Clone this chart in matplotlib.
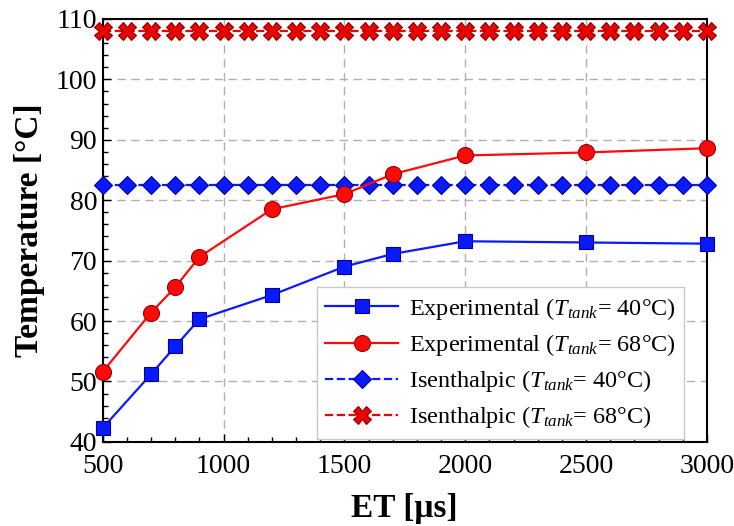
import matplotlib
matplotlib.use("Agg")
import matplotlib.pyplot as plt
import matplotlib.ticker

plt.rcParams['font.family'] = ['Liberation Serif', 'DejaVu Serif']
plt.rcParams['mathtext.fontset'] = 'custom'
plt.rcParams['mathtext.rm'] = 'Liberation Serif'
plt.rcParams['mathtext.it'] = 'Liberation Serif:italic'

# injection energizing time [us] and measured temperatures
et_exp = [500, 700, 800, 900, 1200, 1500, 1700, 2000, 2500, 3000]
temp_40 = [42.3, 51.2, 55.8, 60.3, 64.3, 69.0, 71.1, 73.2, 73.0, 72.8]
temp_68 = [51.6, 61.4, 65.6, 70.6, 78.5, 81.0, 84.3, 87.4, 87.9, 88.6]

# isenthalpic reference levels
et_ise = list(range(500, 3001, 100))
ise_40 = [82.5] * len(et_ise)
ise_68 = [108.0] * len(et_ise)

fig = plt.figure(figsize=(7.34, 5.26), dpi=100)
ax = fig.add_axes([0.140, 0.160, 0.823, 0.804])

ax.plot(et_exp, temp_40, marker="s", markersize=10.5, linestyle="-", linewidth=1.6,
        color="#0a1aff", markeredgecolor="#00009a", markeredgewidth=0.8,
        label=r"Experimental ($T_{tank}$= 40°C)", zorder=4, clip_on=False)
ax.plot(et_exp, temp_68, marker="o", markersize=11.5, linestyle="-", linewidth=1.6,
        color="#ff0a0a", markeredgecolor="#9a0000", markeredgewidth=0.8,
        label=r"Experimental ($T_{tank}$= 68°C)", zorder=4, clip_on=False)
ax.plot(et_ise, ise_40, marker="D", markersize=9, linestyle="--", linewidth=1.6,
        color="#0a1aff", markeredgecolor="#00009a", markeredgewidth=0.8,
        label=r"Isenthalpic ($T_{tank}$= 40°C)", zorder=3, clip_on=False)
ax.plot(et_ise, ise_68, marker="X", markersize=12.5, linestyle="--", linewidth=1.6,
        color="#ee0000", markeredgecolor="#8a0000", markeredgewidth=0.8,
        label=r"Isenthalpic ($T_{tank}$= 68°C)", zorder=3, clip_on=False)

ax.set_xlim([500, 3000])
ax.set_ylim([40, 110])
ax.xaxis.set_major_locator(matplotlib.ticker.MultipleLocator(500))
ax.xaxis.set_minor_locator(matplotlib.ticker.MultipleLocator(100))
ax.yaxis.set_major_locator(matplotlib.ticker.MultipleLocator(10))
ax.yaxis.set_minor_locator(matplotlib.ticker.MultipleLocator(2))
ax.tick_params(which="both", direction="in", labelsize=20, top=False, right=False)
ax.tick_params(which="major", length=6, width=1)
ax.tick_params(which="minor", length=3.5, width=1)
ax.tick_params(axis="x", which="major", pad=9)
ax.tick_params(axis="y", which="major", pad=4)

ax.set_xlabel(r"ET [μs]", fontsize=24, fontweight="bold", labelpad=10)
ax.set_ylabel("Temperature [°C]", fontsize=24, fontweight="bold", labelpad=8)

for sp in ax.spines.values():
    sp.set_linewidth(1.5)

ax.grid(True, linestyle=(0, (6, 4)), color="#b0b0b0", linewidth=1)
ax.set_axisbelow(True)

leg = ax.legend(loc="lower right", fontsize=17.5, fancybox=False, framealpha=1,
                edgecolor="#c8c8c8", handlelength=3.0, handletextpad=0.45,
                borderpad=0.35, labelspacing=0.42, bbox_to_anchor=(0.983, -0.022))
leg.get_frame().set_linewidth(1)

fig.savefig("out.png", dpi=100)
